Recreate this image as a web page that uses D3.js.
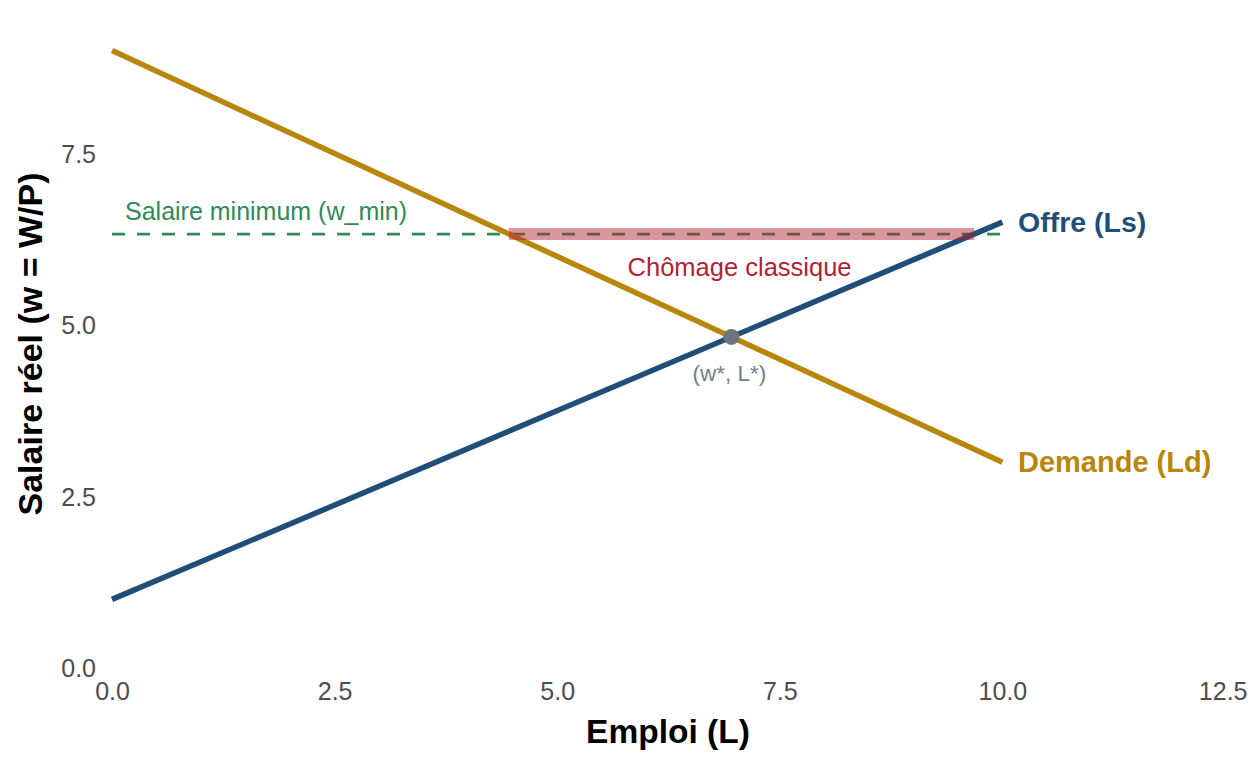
<!DOCTYPE html>
<html>
<head>
<meta charset="utf-8">
<script src="https://cdn.jsdelivr.net/npm/d3@7"></script>
<style>
  body { margin: 0; background: #fff; }
  text { font-family: "Liberation Sans", Arial, sans-serif; }
</style>
</head>
<body>
<svg width="1248" height="768"></svg>
<script>
const svg = d3.select('svg')

// data
const employment = [0, 10];
const supplyWage = [1, 6.5];      // Ls : w = 1 + 0.55 L
const demandWage = [9, 3];        // Ld : w = 9 - 0.6 L
const equilibrium = {L: 6.957, w: 4.826};
const wMin = 6.326;
const unemployment = [4.457, 9.684];   // Ld(wMin) .. Ls(wMin)
const xTicks = [0, 2.5, 5, 7.5, 10, 12.5];
const yTicks = [0, 2.5, 5, 7.5];

const colSupply = '#1f4e79';
const colDemand = '#b8860b';
const colMin = '#2e8b57';
const colUnemp = '#b22234';

const x = d3.scaleLinear().domain([0, 12.5]).range([112, 1225]);
const y = d3.scaleLinear().domain([0, 7.5]).range([668, 153.5]);

const supply = employment.map((L, i) => ({L, w: supplyWage[i]}));
const demand = employment.map((L, i) => ({L, w: demandWage[i]}));

const line = d3.line().x(d => x(d.L)).y(d => y(d.w));

// axes (labels only, theme_minimal without grid)
const xAxis = svg.append('g')
  .attr('transform', `translate(0, 668)`)
  .call(d3.axisBottom(x).tickValues(xTicks).tickFormat(d3.format('.1f')).tickSize(0).tickPadding(14));
const yAxis = svg.append('g')
  .attr('transform', `translate(112, 0)`)
  .call(d3.axisLeft(y).tickValues(yTicks).tickFormat(d3.format('.1f')).tickSize(0).tickPadding(16));
[xAxis, yAxis].forEach(a => {
  a.select('.domain').remove();
  a.selectAll('text')
    .attr('fill', '#4d4d4d')
    .style('font-size', '25px')
    .style('font-family', '"Liberation Sans", Arial, sans-serif');
});
yAxis.selectAll('text').attr('dy', '0.35em');
// last x label sits on the right edge of the page
xAxis.selectAll('.tick').filter(d => d === 12.5).select('text')
  .attr('text-anchor', 'end').attr('x', 22);

// min wage dashed line
svg.append('line')
  .attr('x1', x(0)).attr('x2', x(10))
  .attr('y1', y(wMin)).attr('y2', y(wMin))
  .attr('stroke', colMin)
  .attr('stroke-width', 2.8)
  .attr('stroke-dasharray', '13,12');

// curves
svg.append('path').datum(supply)
  .attr('d', line).attr('fill', 'none')
  .attr('stroke', colSupply).attr('stroke-width', 5.5);
svg.append('path').datum(demand)
  .attr('d', line).attr('fill', 'none')
  .attr('stroke', colDemand).attr('stroke-width', 5.5);

// unemployment band
svg.append('line')
  .attr('x1', x(unemployment[0])).attr('x2', x(unemployment[1]))
  .attr('y1', y(wMin)).attr('y2', y(wMin))
  .attr('stroke', colUnemp)
  .attr('stroke-opacity', 0.48)
  .attr('stroke-width', 12);

// equilibrium point
svg.append('circle')
  .attr('cx', x(equilibrium.L)).attr('cy', y(equilibrium.w))
  .attr('r', 8).attr('fill', '#6c757d');

// text labels
svg.append('text')
  .attr('x', 125).attr('y', y(wMin) - 14)
  .attr('fill', colMin).style('font-size', '25px')
  .text('Salaire minimum (w_min)');

svg.append('text')
  .attr('x', x((unemployment[0] + unemployment[1]) / 2) - 2).attr('y', y(wMin) + 42)
  .attr('text-anchor', 'middle')
  .attr('fill', colUnemp).style('font-size', '25.5px')
  .text('Chômage classique');

svg.append('text')
  .attr('x', x(equilibrium.L) - 2).attr('y', y(equilibrium.w) + 44)
  .attr('text-anchor', 'middle')
  .attr('fill', '#708090').style('font-size', '22.5px')
  .text('(w*, L*)');

svg.append('text')
  .attr('x', 1018).attr('y', y(supplyWage[1]))
  .attr('dy', '0.35em')
  .attr('fill', colSupply).style('font-size', '28.5px').style('font-weight', 'bold')
  .text('Offre (Ls)');

svg.append('text')
  .attr('x', 1018).attr('y', y(demandWage[1]))
  .attr('dy', '0.35em')
  .attr('fill', colDemand).style('font-size', '29px').style('font-weight', 'bold')
  .text('Demande (Ld)');

// axis titles
svg.append('text')
  .attr('x', 668).attr('y', 743)
  .attr('text-anchor', 'middle')
  .style('font-size', '33.5px').style('font-weight', 'bold')
  .text('Emploi (L)');

svg.append('text')
  .attr('transform', 'translate(42, 344) rotate(-90)')
  .attr('text-anchor', 'middle')
  .style('font-size', '34px').style('font-weight', 'bold')
  .text('Salaire réel (w = W/P)');
</script>
</body>
</html>
